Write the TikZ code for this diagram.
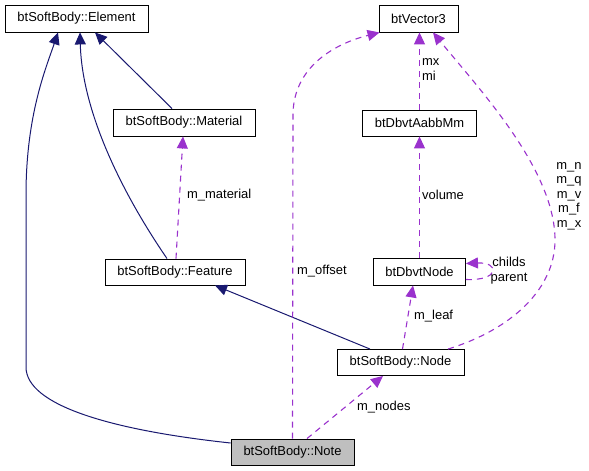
\documentclass[tikz,border=0pt]{standalone}
\usepackage{fontspec}
\setmainfont{Liberation Sans}
\usetikzlibrary{arrows.meta}
\definecolor{inhcol}{HTML}{191970}
\definecolor{usecol}{HTML}{9A32CD}
\definecolor{notefill}{HTML}{BFBFBF}
\begin{document}
\begin{tikzpicture}[x=1bp,y=-1bp,
  every node/.style={font=\fontsize{13}{14.5}\selectfont},
  box/.style={draw=black, line width=0.9bp, inner sep=0pt, minimum height=27bp},
  lbl/.style={inner sep=0pt, anchor=west},
  inh/.style={draw=inhcol, line width=1bp, -{Triangle[length=12bp,width=11bp]}},
  use/.style={draw=usecol, line width=1.1bp, dash pattern=on 6bp off 5bp, -{Triangle[length=12bp,width=11bp]}}]
\useasboundingbox (0,0) rectangle (589,471);
% nodes
\node[box, minimum width=143bp] (elem) at (76.5,18.5) {btSoftBody::Element};
\node[box, minimum width=142bp] (mat) at (184,122.5) {btSoftBody::Material};
\node[box, minimum width=79bp] (vec) at (418.5,18.5) {btVector3};
\node[box, minimum width=114bp, minimum height=26bp] (aabb) at (419.5,123) {btDbvtAabbMm};
\node[box, minimum width=92bp] (dbvt) at (419.5,271.5) {btDbvtNode};
\node[box, minimum width=140bp, minimum height=26bp] (feat) at (175,272) {btSoftBody::Feature};
\node[box, minimum width=127bp, minimum height=26bp] (node) at (400.5,362.5) {btSoftBody::Node};
\node[box, fill=notefill, minimum width=123bp, minimum height=26bp] (note) at (292.5,452) {btSoftBody::Note};
% inheritance
\draw[inh] ([yshift=9bp]note.west) .. controls (110,430) and (26,405) .. (26,367) -- (26,195) .. controls (26,115) and (46,68) .. ([xshift=-18.5bp]elem.south);
\draw[inh] ([xshift=-8bp]feat.north) .. controls (120,190) and (82,110) .. ([xshift=3.5bp]elem.south);
\draw[inh] ([xshift=-12bp]mat.north) -- ([xshift=18.5bp]elem.south);
\draw[inh] ([xshift=-30.5bp]node.north) -- ([xshift=40bp]feat.south);
% usage
\draw[use] ([xshift=1bp]feat.north) -- ([xshift=-1bp]mat.south);
\draw[use] (note.north) -- (293,115) .. controls (293,70) and (330,45) .. ([xshift=1bp]vec.south west);
\draw[use] (aabb.north) -- (aabb.north |- vec.south);
\draw[use] (dbvt.north) -- (aabb.south);
\draw[use] ([yshift=-8bp]dbvt.east) .. controls (500,281) and (500,262) .. ([yshift=8bp]dbvt.east);
\draw[use] ([xshift=2bp]node.north) -- ([xshift=-6.5bp]dbvt.south);
\draw[use] ([xshift=47.5bp]node.north) .. controls (510,330) and (555,290) .. (555,240) .. controls (555,170) and (480,90) .. ([xshift=14.5bp]vec.south);
\draw[use] ([xshift=14.5bp]note.north) -- ([xshift=-17.5bp]node.south);
% labels
\node[lbl] (lmat) at (187,195) {m\_material};
\node[lbl] (loff) at (297,271) {m\_offset};
\node[lbl, align=left] (lmx) at (422,69.5) {mx\\mi};
\node[lbl] (lvol) at (422,195) {volume};
\node[inner sep=0pt, align=center] (lch) at (509,270.5) {childs\\parent};
\node[lbl] (lleaf) at (414,316) {m\_leaf};
\node[inner sep=0pt, align=center] (lmn) at (569,196) {m\_n\\m\_q\\m\_v\\m\_f\\m\_x};
\node[lbl] (lnodes) at (357,407) {m\_nodes};
\end{tikzpicture}
\end{document}
